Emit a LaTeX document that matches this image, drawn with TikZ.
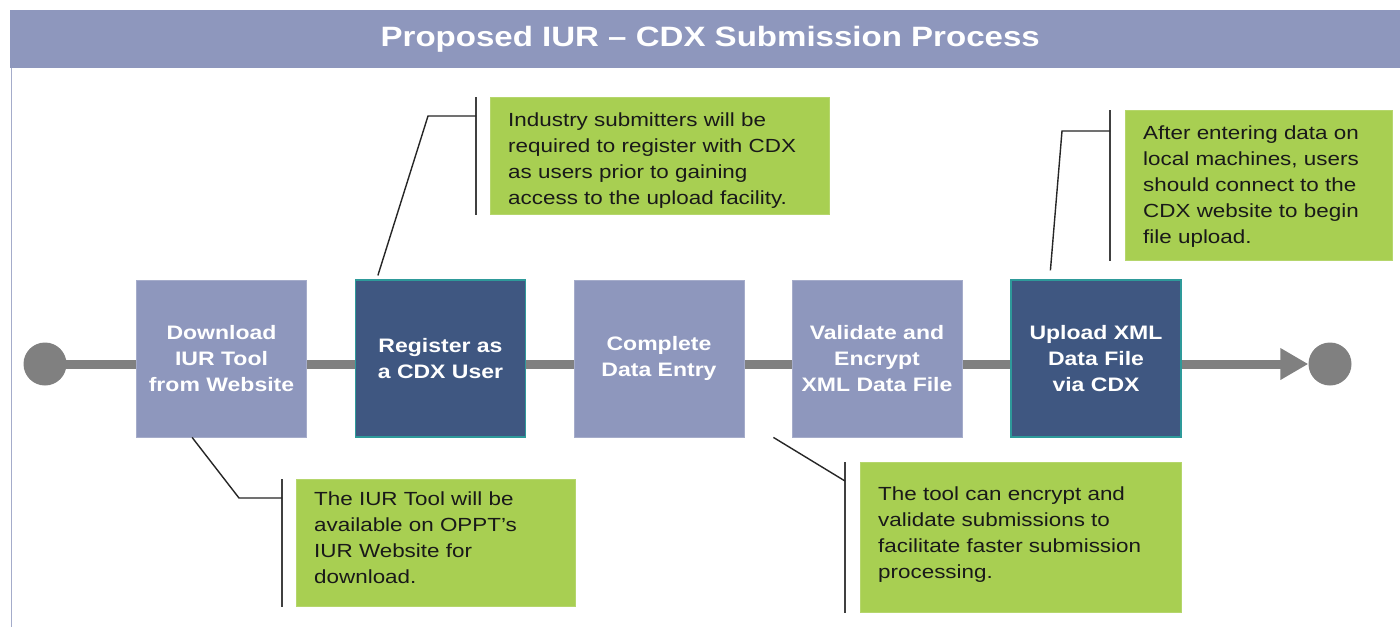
\documentclass[tikz,border=0pt]{standalone}
\usepackage{fontspec}
\setmainfont[FakeStretch=1.18]{Liberation Sans}
\usetikzlibrary{arrows.meta,calc}
\definecolor{lav}{HTML}{8E97BD}
\definecolor{navy}{HTML}{3F5781}
\definecolor{tealb}{HTML}{2E9A9A}
\definecolor{leaf}{HTML}{A8CF52}
\definecolor{flow}{HTML}{808080}
\tikzset{
  lightbox/.style={fill=lav, draw=lav!80!white, line width=0.8pt, minimum width=170pt, minimum height=157pt, inner sep=0pt,
    text=white, font=\fontsize{19.5}{26}\selectfont\bfseries, align=center},
  darkbox/.style={lightbox, fill=navy, draw=tealb, line width=1.2pt},
  note/.style={fill=leaf, draw=leaf!85!white, line width=0.6pt, inner sep=0pt, anchor=north west},
  notetext/.style={inner sep=0pt, anchor=north west, font=\fontsize{19}{26}\selectfont, align=left, text=black!90},
  bar/.style={draw=black!75, line width=2pt},
  leader/.style={draw=black!85, line width=1.4pt},
  dot/.style={circle, fill=flow, minimum size=43pt, inner sep=0pt},
}
\begin{document}
\begin{tikzpicture}[x=1pt,y=-1pt]
\useasboundingbox (0,0) rectangle (1400,627);
\fill[white] (0,0) rectangle (1400,627);
% title bar and frame
\node[fill=lav, minimum width=1390pt, minimum height=58pt, inner sep=0pt, anchor=north west,
  text=white, font=\fontsize{28}{32}\selectfont\bfseries] (title) at (10,10)
  {\hspace*{10pt}\raisebox{-3pt}{Proposed IUR -- CDX Submission Process}};
\draw[lav!80!white, line width=1.5pt] (title.south west) ++(1.5,0) coordinate (fl) -- (11.5,627);
% flow line
\node[dot] (s) at (45,364) {};
\node[dot] (e) at (1330,364) {};
\draw[flow, line width=9pt, -{Triangle[length=28pt,width=30pt]}] (s.center) -- (e.west);
% boxes
\node[lightbox] (b1) at (221.5,358.5) {Download\\IUR Tool\\from Website};
\node[darkbox] (b2) at (440.5,358.5) {Register as\\a CDX User};
\node[lightbox] (b3) at (659,358.5) {Complete\\Data Entry};
\node[lightbox] (b4) at (877,358.5) {Validate and\\Encrypt\\XML Data File};
\node[darkbox] (b5) at (1096,358.5) {Upload XML\\Data File\\via CDX};
% notes
\node[note, minimum width=339pt, minimum height=117pt] (n1) at (490,97) {};
\node[notetext] (t1) at ($(n1.north west)+(18,16)$)
  {Industry submitters will be\\required to register with CDX\\as users prior to gaining\\access to the upload facility.};
\node[note, minimum width=267pt, minimum height=150pt] (n2) at (1125,110) {};
\node[notetext] (t2) at ($(n2.north west)+(18,16)$)
  {After entering data on\\local machines, users\\should connect to the\\CDX website to begin\\file upload.};
\node[note, minimum width=279pt, minimum height=127pt] (n3) at (296,479) {};
\node[notetext] (t3) at ($(n3.north west)+(18,13)$)
  {The IUR Tool will be\\available on OPPT’s\\IUR Website for\\download.};
\node[note, minimum width=321pt, minimum height=150pt] (n4) at (860,462) {};
\node[notetext] (t4) at ($(n4.north west)+(18,25)$)
  {The tool can encrypt and\\validate submissions to\\facilitate faster submission\\processing.};
% bars beside notes
\draw[bar] ($(n1.north west)+(-14,0)$) coordinate (p1t) -- ($(n1.south west)+(-14,0)$);
\draw[bar] ($(n2.north west)+(-15,0)$) coordinate (p2t) -- ($(n2.south west)+(-15,0)$);
\draw[bar] ($(n3.north west)+(-14,0)$) coordinate (p3t) -- ($(n3.south west)+(-14,0)$);
\draw[bar] ($(n4.north west)+(-15,0)$) coordinate (p4t) -- ($(n4.south west)+(-15,0)$);
% leaders
\draw[leader] ($(b2.north west)+(23,-4)$) -- ($(p1t)+(-48,19)$) -- ($(p1t)+(0,19)$);
\draw[leader] ($(b5.north west)+(40,-9)$) -- ($(p2t)+(-48,21)$) -- ($(p2t)+(0,21)$);
\draw[leader] ($(b1.south west)+(56,0)$) -- ($(p3t)+(-43,19)$) -- ($(p3t)+(0,19)$);
\draw[leader] ($(b3.south east)+(29,0)$) -- ($(p4t)+(0,19)$);
\end{tikzpicture}
\end{document}
